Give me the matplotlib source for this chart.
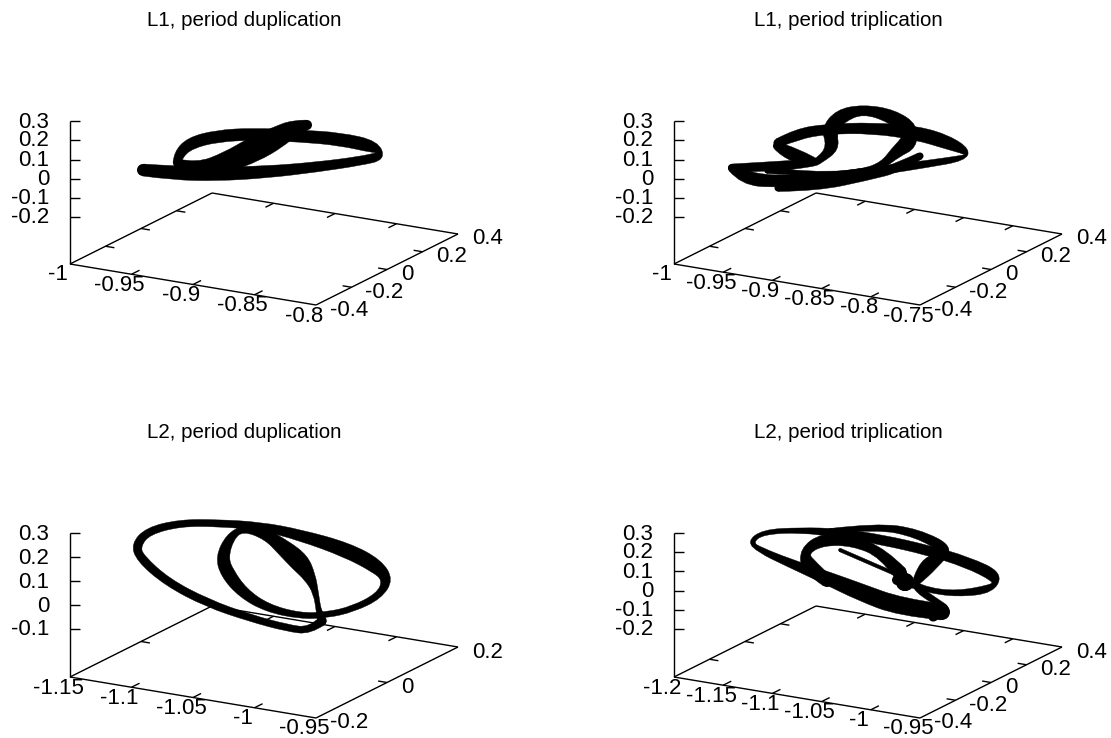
import numpy as np
import matplotlib
matplotlib.use('Agg')
import matplotlib.pyplot as plt
from matplotlib.path import Path
from matplotlib.patches import PathPatch

plt.rcParams['font.family'] = ['Liberation Sans', 'DejaVu Sans']

W, H = 1111, 738
PX = 72 / 100  # points per pixel at dpi 100

titles = ['L1, period duplication', 'L1, period triplication',
          'L2, period duplication', 'L2, period triplication']

x_ticks_1 = ['-1', '-0.95', '-0.9', '-0.85', '-0.8']
x_ticks_2 = ['-1', '-0.95', '-0.9', '-0.85', '-0.8', '-0.75']
x_ticks_3 = ['-1.15', '-1.1', '-1.05', '-1', '-0.95']
x_ticks_4 = ['-1.2', '-1.15', '-1.1', '-1.05', '-1', '-0.95']
y_ticks_1 = ['-0.4', '-0.2', '0', '0.2', '0.4']
y_ticks_3 = ['-0.2', '0', '0.2']
z_ticks_1 = ['0.3', '0.2', '0.1', '0', '-0.1', '-0.2']
z_ticks_3 = ['0.3', '0.2', '0.1', '0', '-0.1']

# corner of the base box (left), and screen y of the z ticks, for each panel
corner_1 = (70, 264)
corner_2 = (674, 264)
corner_3 = (70, 677)
corner_4 = (674, 677)
z_pos_1 = [121, 140, 159.5, 178.5, 197.5, 216.5]
z_pos_3 = [533, 557, 581, 605, 628.5]
z_pos_4 = [533, 552, 571, 590.5, 609.5, 628.7]

# ribbons: x, y, width in screen pixels
p1_a_x = [143, 173, 217, 267, 317, 360, 382, 376, 340, 300, 253, 217, 190, 178, 177]
p1_a_y = [170, 173, 174, 172, 167, 161, 156, 147, 139, 136, 134, 136, 143, 155, 163]
p1_a_w = [12, 14, 14, 12, 10, 9, 10, 13, 13, 12, 12, 12, 12, 10, 8]
p1_b_x = [178, 197, 227, 253, 278, 295, 307]
p1_b_y = [163, 167, 162, 150, 137, 127, 125]
p1_b_w = [8, 8, 20, 25, 22, 15, 10]

p2_a_x = [732, 743, 777, 827, 883, 927, 964, 968, 947, 917, 873, 827, 797, 778]
p2_a_y = [168, 178, 182, 177, 170, 164, 158, 152, 142, 133, 128, 129, 134, 143]
p2_a_w = [8, 14, 12, 8, 9, 7, 6, 7, 14, 14, 11, 10, 11, 9]
p2_b_x = [732, 767, 813, 820, 833, 829, 840, 863, 892, 910, 909, 895, 883, 863, 827, 787, 767]
p2_b_y = [168, 167, 163, 160, 148, 130, 116, 109, 116, 130, 143, 153, 165, 172, 175, 172, 171]
p2_b_w = [8, 10, 8, 7, 13, 16, 15, 9, 14, 19, 18, 11, 7, 6, 6, 5, 5]
p2_c_x = [777, 793, 813]
p2_c_y = [146, 156, 161]
p2_c_w = [8, 18, 8]
p2_d_x = [778, 817, 867, 900, 920]
p2_d_y = [188, 187, 177, 167, 156]
p2_d_w = [7, 8, 7, 10, 7]

p3_a_x = [322, 310, 287, 250, 207, 167, 140, 136, 148, 180, 217, 260, 300, 347, 377, 388,
          379, 353, 327, 300, 267, 243, 227, 222, 230, 243, 267, 283, 300, 310, 316, 319, 322]
p3_a_y = [621, 631, 628, 618, 603, 582, 558, 545, 531, 523, 523, 526, 535, 550, 566, 580,
          596, 609, 615, 616, 608, 593, 573, 557, 537, 528, 535, 547, 562, 577, 593, 613, 621]
p3_a_w = [9, 7, 7, 7, 8, 8, 9, 10, 8, 7, 7, 8, 11, 15, 15, 11,
          7, 6, 6, 6, 8, 11, 14, 13, 9, 6, 10, 16, 20, 12, 5, 5, 9]

p4_a_x = [942, 900, 860, 827, 787, 760, 750, 763, 800, 840, 883, 927, 967, 998, 992, 957, 927, 910, 897]
p4_a_y = [612, 607, 592, 578, 562, 550, 542, 532, 530, 533, 540, 550, 562, 577, 589, 594, 590, 583, 580]
p4_a_w = [16, 18, 17, 13, 8, 6, 6, 5, 5, 9, 10, 10, 11, 13, 9, 6, 5, 8, 10]
p4_b_x = [830, 877, 917, 949, 930, 917, 915, 933, 950, 933]
p4_b_y = [531, 526, 533, 550, 563, 580, 587, 600, 610, 617]
p4_b_w = [5, 6, 9, 14, 17, 10, 7, 7, 9, 9]
p4_c_x = [900, 883, 853, 823, 804, 808, 827]
p4_c_y = [573, 553, 541, 539, 551, 566, 581]
p4_c_w = [14, 10, 10, 13, 10, 17, 12]
p4_d_x = [840, 893]
p4_d_y = [550, 573]
p4_d_w = [3.5, 3.5]
p4_e_x = [905, 905]
p4_e_y = [582, 582]
p4_e_w = [18, 18]

fig = plt.figure(figsize=(W / 100, H / 100), dpi=100)
ax = fig.add_axes([0, 0, 1, 1])
ax.set_xlim(0, W)
ax.set_ylim(H, 0)
ax.axis('off')


def smooth_side(pts):
    # quadratic curve pieces through the midpoints, the read points are the controls
    verts = [pts[0]]
    codes = [Path.LINETO]
    if len(pts) == 2:
        return verts + [pts[1]], codes + [Path.LINETO]
    for i in range(1, len(pts) - 1):
        end = pts[i + 1] if i == len(pts) - 2 else (pts[i] + pts[i + 1]) / 2
        verts += [pts[i], end]
        codes += [Path.CURVE3, Path.CURVE3]
    return verts, codes


def ribbon(xs, ys, ws):
    # black band of varying width, drawn as one filled outline with curved sides
    p = np.column_stack([xs, ys]).astype(float)
    w = np.array(ws, float)
    tan = np.gradient(p, axis=0)
    norm = np.hypot(tan[:, 0], tan[:, 1])
    norm[norm == 0] = 1
    nrm = np.column_stack([-tan[:, 1] / norm, tan[:, 0] / norm]) * (w / 2)[:, None]
    v1, c1 = smooth_side(p + nrm)
    v2, c2 = smooth_side((p - nrm)[::-1])
    c1[0] = Path.MOVETO
    verts = v1 + v2 + [v1[0]]
    codes = c1 + c2 + [Path.CLOSEPOLY]
    ax.add_patch(PathPatch(Path(verts, codes), fc='black', ec='black', lw=0.3))
    ax.scatter([xs[0], xs[-1]], [ys[0], ys[-1]], s=[(w[0] * PX) ** 2, (w[-1] * PX) ** 2],
               color='black', linewidths=0)


def box(corner, z_pos, z_labels, x_labels, y_labels, title, title_y):
    cx, cy = corner
    ex = np.array([246, 41])    # front edge, x axis
    ey = np.array([142, -71])   # side edge, y axis
    o = np.array([cx, cy], float)
    style = dict(color='black', lw=1.0, solid_capstyle='butt')
    for a, b in [(o, o + ex), (o, o + ey), (o + ex, o + ex + ey), (o + ey, o + ex + ey)]:
        ax.plot([a[0], b[0]], [a[1], b[1]], **style)
    ax.plot([cx, cx], [z_pos[0], cy], **style)
    for lab, zy in zip(z_labels, z_pos):
        ax.plot([cx, cx + 10], [zy, zy], **style)
        ax.text(cx - 21, zy + 1, lab, ha='right', va='center', fontsize=16)
    tx = ey / np.hypot(*ey) * 9
    for i, lab in enumerate(x_labels):
        p = o + ex * i / (len(x_labels) - 1)
        if 0 < i < len(x_labels) - 1:
            ax.plot([p[0], p[0] + tx[0]], [p[1], p[1] + tx[1]], **style)
            q = p + ey
            ax.plot([q[0], q[0] - tx[0]], [q[1], q[1] - tx[1]], **style)
        ax.text(p[0] - 12, p[1] + 11, lab, ha='center', va='center', fontsize=16)
    ty = ex / np.hypot(*ex) * 9
    for i, lab in enumerate(y_labels):
        p = o + ex + ey * i / (len(y_labels) - 1)
        if 0 < i < len(y_labels) - 1:
            ax.plot([p[0], p[0] - ty[0]], [p[1], p[1] - ty[1]], **style)
            q = p - ex
            ax.plot([q[0], q[0] + ty[0]], [q[1], q[1] + ty[1]], **style)
        ax.text(p[0] + 14, p[1] + 5, lab, ha='left', va='center', fontsize=16)
    ax.text(cx + 174, title_y, title, ha='center', va='center', fontsize=14.8)


box(corner_1, z_pos_1, z_ticks_1, x_ticks_1, y_ticks_1, titles[0], 21)
box(corner_2, z_pos_1, z_ticks_1, x_ticks_2, y_ticks_1, titles[1], 21)
box(corner_3, z_pos_3, z_ticks_3, x_ticks_3, y_ticks_3, titles[2], 433)
box(corner_4, z_pos_4, z_ticks_1, x_ticks_4, y_ticks_1, titles[3], 433)

ribbon(p1_a_x, p1_a_y, p1_a_w)
ribbon(p1_b_x, p1_b_y, p1_b_w)
ribbon(p2_a_x, p2_a_y, p2_a_w)
ribbon(p2_b_x, p2_b_y, p2_b_w)
ribbon(p2_c_x, p2_c_y, p2_c_w)
ribbon(p2_d_x, p2_d_y, p2_d_w)
ribbon(p3_a_x, p3_a_y, p3_a_w)
ribbon(p4_a_x, p4_a_y, p4_a_w)
ribbon(p4_b_x, p4_b_y, p4_b_w)
ribbon(p4_c_x, p4_c_y, p4_c_w)
ribbon(p4_d_x, p4_d_y, p4_d_w)
ribbon(p4_e_x, p4_e_y, p4_e_w)

fig.savefig('out.png', dpi=100)
